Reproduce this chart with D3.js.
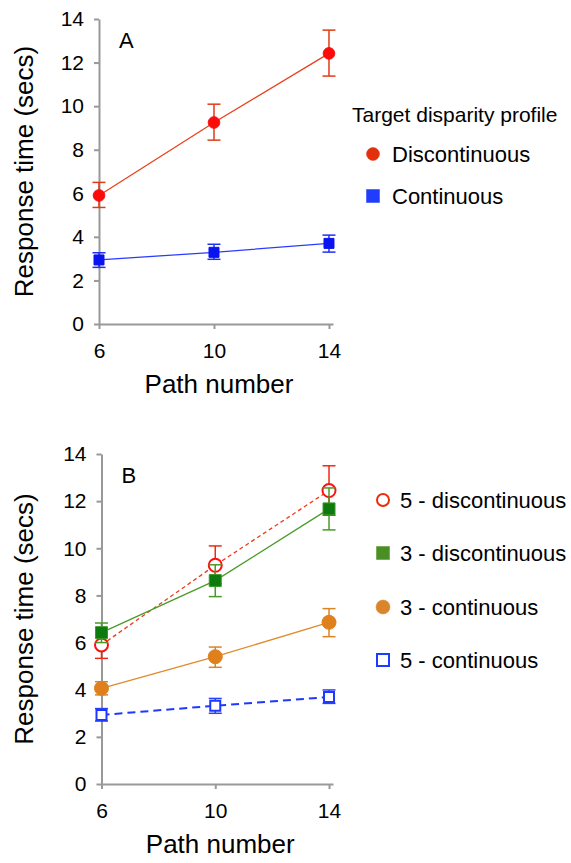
<!DOCTYPE html>
<html>
<head>
<meta charset="utf-8">
<script src="https://cdn.jsdelivr.net/npm/d3@7"></script>
<style>
	body { margin: 0; background: #fff; }
	text { font-family: "Liberation Sans", Arial, sans-serif; fill: #000; }
	.axis path, .axis line { stroke: #999; stroke-width: 2; }
	.axis text { font-size: 21px; }
</style>
</head>
<body>
<script>
// x categories (path number)
const pathNumbers = [6, 10, 14];
const yTicks = [0, 2, 4, 6, 8, 10, 12, 14];

// panel A: mean response time and error bar limits
const discMean = [5.9, 9.25, 12.42];
const discLo = [5.35, 8.44, 11.38];
const discHi = [6.5, 10.09, 13.49];
const contMean = [2.94, 3.29, 3.7];
const contLo = [2.6, 2.97, 3.3];
const contHi = [3.27, 3.66, 4.08];

// panel B
const disc5Mean = [5.9, 9.28, 12.45];
const disc5Lo = [5.33, 8.5, 11.4];
const disc5Hi = [6.5, 10.1, 13.5];
const disc3Mean = [6.42, 8.63, 11.67];
const disc3Lo = [6.0, 7.95, 10.78];
const disc3Hi = [6.83, 9.3, 12.56];
const cont3Mean = [4.06, 5.4, 6.86];
const cont3Lo = [3.78, 4.95, 6.25];
const cont3Hi = [4.34, 5.81, 7.44];
const cont5Mean = [2.93, 3.32, 3.69];
const cont5Lo = [2.67, 3.0, 3.42];
const cont5Hi = [3.2, 3.63, 3.99];

const width = 571, height = 863;

const svg = d3.select("body").append("svg")
	.attr("width", width)
	.attr("height", height);

function rows(mean, lo, hi) {
	return pathNumbers.map((p, i) => ({ x: p, y: mean[i], lo: lo[i], hi: hi[i] }));
}

function drawPanel(opts) {
	const x = d3.scaleLinear().domain([6, 14.14]).range([opts.left, 333]);
	const y = d3.scaleLinear().domain([0, 14]).range([opts.bottom, opts.top]);
	const g = svg.append("g");

	g.append("g").attr("class", "axis")
		.attr("transform", "translate(0," + opts.bottom + ")")
		.call(d3.axisBottom(x).tickValues(pathNumbers).tickSize(5).tickSizeOuter(0).tickPadding(14));

	g.append("g").attr("class", "axis")
		.attr("transform", "translate(" + opts.left + ",0)")
		.call(d3.axisLeft(y).tickValues(yTicks).tickSize(5).tickSizeOuter(0).tickPadding(10));

	g.append("text")
		.attr("x", (opts.left + 333) / 2 + 3)
		.attr("y", opts.bottom + 69)
		.attr("text-anchor", "middle")
		.style("font-size", "26px")
		.text("Path number");

	g.append("text")
		.attr("transform", "translate(33," + (opts.top + opts.bottom) / 2 + ") rotate(-90)")
		.attr("text-anchor", "middle")
		.style("font-size", "26px")
		.text("Response time (secs)");

	g.append("text")
		.attr("x", opts.left + 20)
		.attr("y", opts.top + 29)
		.style("font-size", "22px")
		.text(opts.label);

	opts.series.forEach(s => {
		const data = rows(s.mean, s.lo, s.hi);
		const sg = g.append("g");
		sg.append("path")
			.datum(data)
			.attr("fill", "none")
			.attr("stroke", s.line)
			.attr("stroke-width", s.lineWidth || 1.3)
			.attr("stroke-dasharray", s.dash || null)
			.attr("d", d3.line().x(d => x(d.x)).y(d => y(d.y)));

		const eb = sg.selectAll(".err").data(data).enter().append("g")
			.attr("stroke", s.err)
			.attr("stroke-width", 1.5);
		eb.append("line")
			.attr("x1", d => x(d.x)).attr("x2", d => x(d.x))
			.attr("y1", d => y(d.lo)).attr("y2", d => y(d.hi));
		eb.append("line")
			.attr("x1", d => x(d.x) - 6.5).attr("x2", d => x(d.x) + 6.5)
			.attr("y1", d => y(d.lo)).attr("y2", d => y(d.lo));
		eb.append("line")
			.attr("x1", d => x(d.x) - 6.5).attr("x2", d => x(d.x) + 6.5)
			.attr("y1", d => y(d.hi)).attr("y2", d => y(d.hi));

		sg.selectAll(".pt").data(data).enter().append("path")
			.attr("transform", d => "translate(" + x(d.x) + "," + y(d.y) + ")")
			.attr("d", markerPath(s.shape, s.size))
			.attr("fill", s.open ? "#fff" : s.fill)
			.attr("stroke", s.stroke)
			.attr("stroke-width", s.open ? 2 : 1);
	});
}

function markerPath(shape, size) {
	if (shape === "circle") {
		return d3.symbol().type(d3.symbolCircle).size(Math.PI * size * size)();
	}
	const h = size / 2;
	return "M" + (-h) + "," + (-h) + "H" + h + "V" + h + "H" + (-h) + "Z";
}

function drawLegend(x0, items, title) {
	const g = svg.append("g");
	if (title) {
		g.append("text")
			.attr("x", title.x).attr("y", title.y)
			.style("font-size", "21px")
			.text(title.text);
	}
	items.forEach(it => {
		g.append("path")
			.attr("transform", "translate(" + x0 + "," + it.y + ")")
			.attr("d", markerPath(it.shape, it.size))
			.attr("fill", it.open ? "#fff" : it.fill)
			.attr("stroke", it.stroke)
			.attr("stroke-width", it.open ? 2 : 0.5);
		g.append("text")
			.attr("x", x0 + it.dx).attr("y", it.y + 8)
			.style("font-size", "22px")
			.text(it.text);
	});
}

drawPanel({
	left: 99, top: 19, bottom: 324, label: "A",
	series: [
		{ mean: discMean, lo: discLo, hi: discHi, line: "#e8401c", err: "#e03c14",
			shape: "circle", size: 5.8, fill: "#ff0a0a", stroke: "#f21010" },
		{ mean: contMean, lo: contLo, hi: contHi, line: "#2a3cff", err: "#2030f0",
			shape: "square", size: 10, fill: "#0a14f0", stroke: "#0a14f0" }
	]
});

drawLegend(373, [
	{ y: 154, shape: "circle", size: 6.5, fill: "#e2300c", stroke: "#e2300c", text: "Discontinuous", dx: 19 },
	{ y: 196, shape: "square", size: 13, fill: "#1f3cff", stroke: "#1f3cff", text: "Continuous", dx: 19 }
], { x: 352, y: 122, text: "Target disparity profile" });

drawPanel({
	left: 101.5, top: 454, bottom: 784, label: "B",
	series: [
		{ mean: cont5Mean, lo: cont5Lo, hi: cont5Hi, line: "#1e38ff", err: "#2a40ff", dash: "8,5", lineWidth: 2,
			shape: "square", size: 10, open: true, stroke: "#1e38ff" },
		{ mean: cont3Mean, lo: cont3Lo, hi: cont3Hi, line: "#e08a2a", err: "#d98426",
			shape: "circle", size: 7, fill: "#e0801c", stroke: "#e0801c" },
		{ mean: disc5Mean, lo: disc5Lo, hi: disc5Hi, line: "#ee3a1a", err: "#ee2a12", dash: "4,3",
			shape: "circle", size: 6.5, open: true, stroke: "#ff1010" },
		{ mean: disc3Mean, lo: disc3Lo, hi: disc3Hi, line: "#4c9a2a", err: "#4a9a2a",
			shape: "square", size: 12, fill: "#0c7a0c", stroke: "#3a9a2a" }
	]
});

drawLegend(383, [
	{ y: 500, shape: "circle", size: 6, open: true, stroke: "#e8300c", text: "5 - discontinuous", dx: 17 },
	{ y: 553, shape: "square", size: 13, fill: "#4a8f23", stroke: "#4a8f23", text: "3 - discontinuous", dx: 17 },
	{ y: 607, shape: "circle", size: 7, fill: "#d9852b", stroke: "#d9852b", text: "3 - continuous", dx: 17 },
	{ y: 660, shape: "square", size: 12, open: true, stroke: "#1e3cff", text: "5 - continuous", dx: 17 }
]);
</script>
</body>
</html>
